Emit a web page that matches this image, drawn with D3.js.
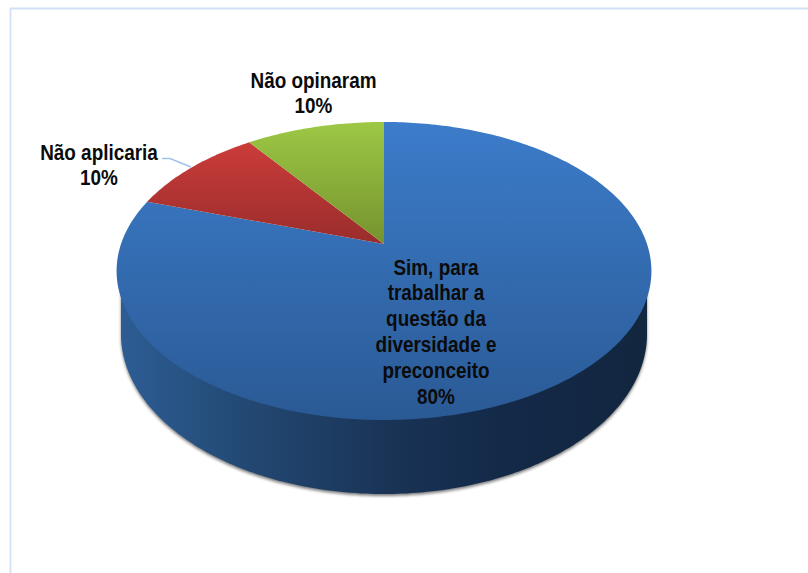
<!DOCTYPE html>
<html lang="pt">
<head>
<meta charset="utf-8">
<script src="https://cdn.jsdelivr.net/npm/d3@7"></script>
<style>
  html, body { margin: 0; padding: 0; background: #fff; }
  svg { display: block; }
  text { font-family: "Liberation Sans", Arial, sans-serif; font-weight: 700; fill: #0b0b0b; }
</style>
</head>
<body>
<svg id="chart" width="808" height="573"></svg>
<script>
// Survey answers, in clockwise order from twelve o'clock
const categories = ["Sim, para trabalhar a questão da diversidade e preconceito", "Não aplicaria", "Não opinaram"];
const shares = [80, 10, 10];
const labelLines = [
  ["Sim, para", "trabalhar a", "questão da", "diversidade e", "preconceito", "80%"],
  ["Não aplicaria", "10%"],
  ["Não opinaram", "10%"]
];
const labelAnchors = [[436, 274.5], [99, 159.5], [313.5, 87.5]];
const topStops = [["#3c7cca", "#2a5a95"], ["#cb3c3a", "#992d2b"], ["#9dc845", "#75932e"]];
const wallStops = [[0, "#2d5d95"], [0.25, "#224872"], [0.5, "#1a3457"], [0.72, "#132948"], [1, "#12263f"]];

const svg = d3.select("#chart");
const defs = svg.append("defs");

// Frame of the slide region
svg.append("rect").attr("width", 808).attr("height", 573).attr("fill", "#fff");
svg.append("path").attr("d", "M10.5,573V8.5H808")
  .attr("fill", "none").attr("stroke", "#d2e1f3").attr("stroke-width", 1.8);

// The disc lies on a tilted plane: a unit disc goes through a perspective
// divide so the far half is foreshortened and the hub sits above the ellipse centre.
const x = d3.scaleLinear().domain([-1, 1]).range([121, 647]);
const y = d3.scaleLinear().domain([-1, 1]).range([388.1, 99.9]);
const tilt = 0.181;
const project = (angle, r = 1) => {
  const u = r * Math.sin(angle), v = r * Math.cos(angle), w = 1 + tilt * v;
  return [x(u / w), y(v / w)];
};

const pie = d3.pie().sort(null).startAngle(0).endAngle(2 * Math.PI);
const arcs = pie(shares);
const line = d3.line();
const arcPoints = (a0, a1) => {
  const n = Math.max(2, Math.ceil((a1 - a0) * 60));
  return d3.range(n + 1).map(i => project(a0 + (a1 - a0) * i / n));
};

// Rim of the base, a plain ellipse lower on the page
const baseX = d3.scaleLinear().domain([-1, 1]).range([121, 647]);
const baseY = d3.scaleLinear().domain([-1, 1]).range([494, 174]);
const baseRim = d3.range(0, 181).map(d => {
  const t = Math.PI * d / 180;
  return [baseX(Math.cos(Math.PI - t)), baseY(-Math.sin(t))];
});
const wallPath = "M" + [x(-1), y(-0.06)] + "L" + baseRim.map(p => p.join(",")).join("L") + "L" + [x(1), y(-0.06)] + "Z";

// Side wall gradient and soft contact shadow
const wallGrad = defs.append("linearGradient").attr("id", "wall")
  .attr("gradientUnits", "userSpaceOnUse").attr("x1", 118).attr("x2", 650).attr("y1", 0).attr("y2", 0);
wallGrad.selectAll("stop").data(wallStops).join("stop")
  .attr("offset", d => d[0]).attr("stop-color", d => d[1]);
defs.append("filter").attr("id", "soft").attr("x", "-5%").attr("y", "-5%").attr("width", "110%").attr("height", "110%")
  .append("feGaussianBlur").attr("stdDeviation", 1.6);

svg.append("path").attr("d", wallPath).attr("fill", "#444").attr("opacity", 0.7)
  .attr("transform", "translate(0,2)").attr("filter", "url(#soft)");
svg.append("path").attr("d", wallPath).attr("fill", "url(#wall)");

// Top face slices
topStops.forEach((stops, i) => {
  const g = defs.append("linearGradient").attr("id", "face" + i).attr("x1", 0).attr("x2", 0).attr("y1", 0).attr("y2", 1);
  g.append("stop").attr("offset", 0).attr("stop-color", stops[0]);
  g.append("stop").attr("offset", 1).attr("stop-color", stops[1]);
});

svg.selectAll("path.slice").data(arcs).join("path")
  .attr("class", "slice")
  .attr("fill", (d, i) => `url(#face${i})`)
  .attr("d", d => line([project(0, 0), ...arcPoints(d.startAngle, d.endAngle)]) + "Z");

// Leader from the "Não aplicaria" label to the rim of its slice
svg.append("path").attr("d", "M162,158.5H170L191,167")
  .attr("fill", "none").attr("stroke", "#a3c2e8").attr("stroke-width", 1.6);

// Data labels, condensed horizontally
const labels = svg.selectAll("g.label").data(labelLines).join("g")
  .attr("class", "label")
  .attr("transform", (d, i) => `translate(${labelAnchors[i][0]},${labelAnchors[i][1]}) scale(0.86,1)`);
labels.selectAll("text").data(d => d).join("text")
  .attr("text-anchor", "middle")
  .attr("font-size", 22)
  .attr("y", (d, i) => i * 25.9)
  .text(d => d);
</script>
</body>
</html>
